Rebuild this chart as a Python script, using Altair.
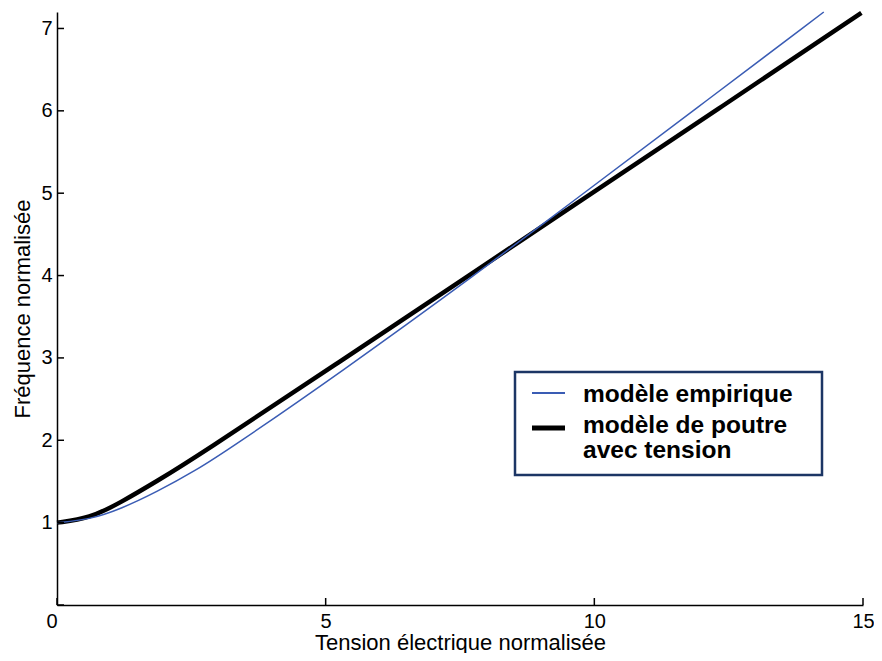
import altair as alt
import pandas as pd

# Series
x_empirique = [0, 0.6, 1.2, 1.85, 2.6, 3.2, 5.25, 7.85, 9.7, 11.9, 14.27]
y_empirique = [1.0, 1.035, 1.17, 1.37, 1.64, 1.89, 2.81, 4.04, 4.95, 6.03, 7.2]

x_poutre = [0, 0.6, 1.2, 1.85, 2.6, 5.25, 7.85, 9.7, 12.3, 14.97]
y_poutre = [1.0, 1.05, 1.25, 1.50, 1.80, 2.95, 4.08, 4.89, 6.02, 7.19]

x_ticks = [0, 5, 10, 15]
y_ticks = [0, 1, 2, 3, 4, 5, 6, 7]

legend_labels = ["modèle empirique", "modèle de poutre", "avec tension"]

FONT = "Liberation Sans"
W, H = 806, 593

df_emp = pd.DataFrame({"x": x_empirique, "y": y_empirique})
df_pou = pd.DataFrame({"x": x_poutre, "y": y_poutre})
df_xt = pd.DataFrame({"x": x_ticks})
df_yt = pd.DataFrame({"y": y_ticks})

xscale = alt.Scale(domain=[0, 15], nice=False, zero=False)
yscale = alt.Scale(domain=[0, 7.2], nice=False, zero=False)

xaxis = alt.Axis(
    values=x_ticks, title="Tension électrique normalisée", ticks=False, tickSize=0,
    grid=False, labelPadding=6, format="d",
    titleY=44, titleBaseline="alphabetic",
    labelAlign={"condition": {"test": "datum.value === 0", "value": "right"}, "value": "center"},
)
yaxis = alt.Axis(
    values=y_ticks, title="Fréquence normalisée", ticks=False, tickSize=0,
    grid=False, labelPadding=5, format="d",
    titleX=-28, titleBaseline="alphabetic",
    labelExpr="datum.value === 0 ? '' : datum.label",
)

X = alt.X("x:Q", scale=xscale, axis=xaxis)
Y = alt.Y("y:Q", scale=yscale, axis=yaxis)

poutre = alt.Chart(df_pou).mark_line(
    color="black", strokeWidth=4.5, interpolate="basis"
).encode(x=X, y=Y)

emp = alt.Chart(df_emp).mark_line(
    color="#3a5cb4", strokeWidth=1.5, interpolate="basis"
).encode(x=alt.X("x:Q", scale=xscale), y=alt.Y("y:Q", scale=yscale))

xt = alt.Chart(df_xt).mark_rule(color="black", strokeWidth=1.5).encode(
    x=alt.X("x:Q", scale=xscale), y=alt.value(H), y2=alt.value(H - 7)
)
yt = alt.Chart(df_yt).mark_rule(color="black", strokeWidth=1.5).encode(
    y=alt.Y("y:Q", scale=yscale), x=alt.value(0), x2=alt.value(7)
)

one = alt.Data(values=[{}])
box = alt.Chart(one).mark_rect(
    fill="white", stroke="#1c3665", strokeWidth=2.5
).encode(x=alt.value(458), x2=alt.value(765), y=alt.value(360), y2=alt.value(463))

sym_blue = alt.Chart(one).mark_rule(color="#3a5cb4", strokeWidth=2).encode(
    x=alt.value(475), x2=alt.value(508), y=alt.value(381)
)
sym_black = alt.Chart(one).mark_rule(color="black", strokeWidth=5).encode(
    x=alt.value(475), x2=alt.value(508), y=alt.value(416)
)

def label(txt, ypix):
    return alt.Chart(alt.Data(values=[{"t": txt}])).mark_text(
        align="left", baseline="alphabetic", font=FONT, fontSize=24.5,
        fontWeight="bold", color="black"
    ).encode(text="t:N", x=alt.value(526), y=alt.value(ypix))

labels = [label(t, yp) for t, yp in zip(legend_labels, [390, 421, 446])]

chart = alt.layer(poutre, emp, xt, yt, box, sym_blue, sym_black, *labels).properties(
    width=W, height=H,
    padding={"left": 49, "top": 4, "right": 11, "bottom": 48},
    autosize=alt.AutoSizeParams(type="none"),
).configure_view(stroke=None).configure_axis(
    domainColor="black", domainWidth=1.5,
    labelFont=FONT, labelFontSize=20, labelColor="black",
    titleFont=FONT, titleFontSize=22, titleColor="black", titleFontWeight="normal",
)

chart.save("out.html", embed_options={"renderer": "svg", "actions": False})
